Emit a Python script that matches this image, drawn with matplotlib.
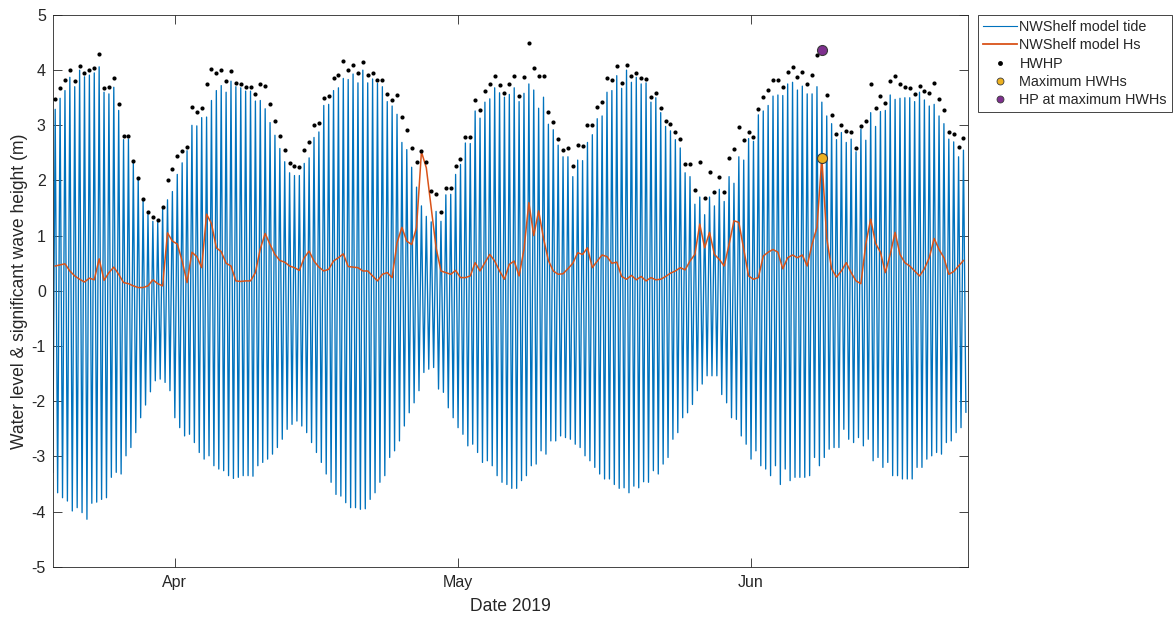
import numpy as np
import pandas as pd
import matplotlib
matplotlib.use('Agg')
import matplotlib.pyplot as plt
from matplotlib.lines import Line2D

# Fonts close to the MATLAB look
plt.rcParams['font.family'] = ['Liberation Sans', 'DejaVu Sans']
plt.rcParams['axes.unicode_minus'] = False

# ---- data ----------------------------------------------------------------
# tide low waters (m), one per tide, starting just before the first high water
low_water = [
    -3.29, -3.66, -3.75, -3.81, -3.99, -3.93, -4.02, -4.14, -3.85, -3.83,
    -3.78, -3.75, -3.38, -3.29, -3.32, -2.99, -2.84, -2.57, -2.30, -2.07,
    -1.83, -1.63, -1.60, -1.66, -1.81, -2.30, -2.48, -2.63, -2.60, -2.75,
    -2.93, -3.05, -2.99, -3.17, -3.23, -3.26, -3.35, -3.40, -3.38, -3.35,
    -3.35, -3.36, -3.17, -3.11, -3.05, -2.96, -2.84, -2.69, -2.51, -2.42,
    -2.36, -2.45, -2.57, -2.75, -2.93, -3.11, -3.32, -3.47, -3.69, -3.72,
    -3.84, -3.93, -3.93, -3.96, -3.95, -3.78, -3.66, -3.47, -3.35, -3.02,
    -2.90, -2.72, -2.45, -2.21, -2.03, -1.81, -1.48, -1.42, -1.39, -1.78,
    -1.84, -2.12, -2.30, -2.48, -2.60, -2.81, -2.78, -2.93, -3.11, -3.08,
    -3.17, -3.35, -3.47, -3.51,
    -3.58, -3.58, -3.44, -3.35, -3.17, -3.14, -2.90, -2.96, -2.72, -2.72,
    -2.63, -2.66, -2.69, -2.78, -2.84, -2.99, -3.08, -3.20, -3.32, -3.41,
    -3.41, -3.51, -3.58, -3.57, -3.66, -3.54, -3.57, -3.46, -3.47, -3.26,
    -3.32, -3.14, -3.02, -2.69, -2.57, -2.30, -2.21, -2.06, -1.81, -1.69,
    -1.54, -1.54, -1.54, -1.88, -2.03, -2.30, -2.33, -2.63, -2.78, -3.05,
    -2.90, -3.17, -3.23, -3.35, -3.17, -3.51, -3.23, -3.44, -3.38, -3.38,
    -3.38, -3.35, -3.02, -3.17, -3.02, -2.87, -2.84, -2.84, -2.51, -2.69,
    -2.75, -2.66, -2.81, -2.69, -3.08, -3.02, -3.20, -3.11, -3.35, -3.35,
    -3.41, -3.41, -3.41, -3.20, -3.20, -3.05, -2.99, -2.93, -2.96, -2.75,
    -2.72, -2.57, -2.48, -2.20,
]

# tide high waters (m)
high_water = [
    3.29, 3.49, 3.63, 3.87, 3.70, 4.00, 3.88, 3.91, 3.95, 4.06,
    3.60, 3.57, 3.69, 3.27, 2.74, 2.75, 2.31, 2.03, 1.64, 1.38,
    1.26, 1.24, 1.48, 1.65, 1.80, 2.11, 2.32, 2.54, 3.00, 2.99,
    3.14, 3.15, 3.45, 3.63, 3.72, 3.60, 3.80, 3.70, 3.68, 3.62,
    3.62, 3.44, 3.45, 3.30, 3.05, 2.82, 2.58, 2.34,
    2.14, 2.09, 2.09, 2.31, 2.41, 2.78, 2.88, 3.36, 3.38, 3.63,
    3.68, 3.85, 3.83, 3.93, 3.77, 4.00, 3.77, 3.84, 3.76, 3.70,
    3.43, 3.35, 3.20, 2.69, 2.56, 2.24, 1.88, 1.54, 1.35, 1.25,
    1.44, 1.26, 1.74, 1.75, 2.11, 2.29, 2.68, 2.67, 3.26, 3.13,
    3.42, 3.48, 3.68, 3.59, 3.51, 3.56, 3.68,
    3.43, 3.58, 3.75, 3.64, 3.31, 3.51, 3.02, 2.92, 2.64, 2.43,
    2.43, 2.07, 2.37, 2.36, 2.69, 2.83, 3.12, 3.17, 3.60, 3.63,
    3.90, 3.67, 4.00, 3.78, 3.87, 3.75, 3.77, 3.42, 3.50, 3.23,
    2.98, 2.90, 2.74, 2.59, 2.14, 2.07, 1.57, 1.70, 1.38, 1.70,
    1.54, 1.84, 1.62, 2.07, 1.95, 2.43, 2.37,
    2.76, 2.71, 3.19, 3.26, 3.36, 3.53, 3.55, 3.54, 3.75, 3.78,
    3.64, 3.71, 3.57, 3.57, 3.70, 3.42, 3.17, 3.03, 2.74, 2.87,
    2.69, 2.75, 2.52, 2.93, 2.73, 3.23, 2.98, 3.25, 3.27, 3.55,
    3.47, 3.49, 3.50, 3.50, 3.43, 3.60, 3.46, 3.35, 3.38, 3.17,
    3.03, 2.75, 2.70, 2.43, 2.55,
]

# high water + wave contribution (black dots)
hwhp = [
    3.47, 3.68, 3.83, 4.01, 3.81, 4.08, 3.94, 4.00, 4.03, 4.30,
    3.68, 3.70, 3.86, 3.39, 2.80, 2.80, 2.35, 2.05, 1.66, 1.42,
    1.34, 1.29, 1.52, 2.00, 2.21, 2.45, 2.54, 2.60, 3.34, 3.24,
    3.31, 3.74, 4.02, 3.94, 4.00, 3.80, 3.98, 3.77, 3.75, 3.69,
    3.69, 3.57, 3.75, 3.72, 3.39, 3.08, 2.80, 2.55,
    2.32, 2.26, 2.24, 2.55, 2.70, 3.00, 3.05, 3.50, 3.54, 3.85,
    3.92, 4.16, 4.01, 4.10, 3.94, 4.14, 3.91, 3.95, 3.83, 3.82,
    3.56, 3.45, 3.55, 3.15, 2.92, 2.58, 2.34, 2.53, 2.33, 1.81,
    1.75, 1.43, 1.87, 1.87, 2.26, 2.39, 2.78, 2.78, 3.46, 3.27,
    3.62, 3.74, 3.90, 3.73, 3.59, 3.75, 3.90,
    3.54, 3.88, 4.50, 4.04, 3.89, 3.89, 3.24, 3.06, 2.76, 2.55,
    2.59, 2.27, 2.65, 2.62, 3.00, 3.00, 3.34, 3.43, 3.85, 3.83,
    4.07, 3.77, 4.10, 3.89, 3.95, 3.85, 3.84, 3.52, 3.58, 3.31,
    3.08, 3.03, 2.88, 2.76, 2.29, 2.29, 1.83, 2.33, 1.69, 2.15,
    1.80, 2.07, 1.80, 2.41, 2.57, 2.97, 2.73,
    2.87, 2.79, 3.29, 3.51, 3.64, 3.83, 3.83, 3.70, 3.96, 4.06,
    3.88, 3.97, 3.75, 3.91, 4.27, 4.35, 3.55, 3.19, 2.84, 3.01,
    2.89, 2.88, 2.59, 2.98, 3.07, 3.75, 3.32, 3.53, 3.40, 3.81,
    3.89, 3.75, 3.70, 3.68, 3.57, 3.71, 3.62, 3.59, 3.76, 3.47,
    3.27, 2.87, 2.84, 2.61, 2.77,
]

# significant wave height at each high water (m)
hs = [
    0.45, 0.47, 0.49, 0.36, 0.27, 0.21, 0.16, 0.23, 0.20, 0.58,
    0.19, 0.33, 0.43, 0.30, 0.15, 0.13, 0.09, 0.06, 0.06, 0.09,
    0.20, 0.13, 0.09, 1.05, 0.90, 0.85, 0.54, 0.15, 0.70, 0.62,
    0.42, 1.39, 1.22, 0.78, 0.71, 0.50, 0.45, 0.18, 0.17, 0.18,
    0.18, 0.33, 0.76, 1.04, 0.84, 0.66, 0.55, 0.52,
    0.45, 0.42, 0.37, 0.60, 0.72, 0.54, 0.43, 0.36, 0.39, 0.54,
    0.60, 0.67, 0.44, 0.43, 0.42, 0.36, 0.36, 0.27, 0.18, 0.30,
    0.33, 0.24, 0.87, 1.15, 0.90, 0.84, 1.15, 2.52, 2.23, 1.51,
    0.78, 0.36, 0.33, 0.30, 0.37, 0.24, 0.24, 0.27, 0.51, 0.36,
    0.51, 0.66, 0.54, 0.36, 0.21, 0.48, 0.54,
    0.27, 0.75, 1.60, 1.00, 1.45, 0.95, 0.55, 0.36, 0.30, 0.31,
    0.40, 0.50, 0.69, 0.66, 0.78, 0.42, 0.54, 0.65, 0.62, 0.50,
    0.52, 0.26, 0.21, 0.28, 0.20, 0.26, 0.18, 0.24, 0.20, 0.21,
    0.26, 0.32, 0.36, 0.42, 0.38, 0.54, 0.66, 1.21, 0.78, 1.06,
    0.66, 0.57, 0.45, 0.84, 1.27, 1.24, 0.75,
    0.27, 0.21, 0.24, 0.63, 0.70, 0.75, 0.70, 0.40, 0.60, 0.65,
    0.60, 0.65, 0.45, 0.85, 1.15, 2.41, 0.95, 0.40, 0.25, 0.36,
    0.51, 0.33, 0.18, 0.13, 0.85, 1.30, 0.86, 0.70, 0.33, 0.66,
    1.06, 0.66, 0.51, 0.45, 0.36, 0.27, 0.40, 0.60, 0.95, 0.75,
    0.60, 0.30, 0.35, 0.45, 0.55,
]

# maximum high-water Hs and the HP value at the same tide
max_index = 157
max_hwhs = 2.41
hp_at_max = 4.36

month_ticks = ['2019-04-01', '2019-05-01', '2019-06-01']
month_labels = ['Apr', 'May', 'Jun']

# ---- times: semidiurnal tide, 12 h 25 min between high waters ------------
low_times = pd.date_range('2019-03-19 01:26', periods=len(low_water), freq='745min')
high_times = low_times[:-1] + pd.Timedelta(minutes=372)

# interleave low and high waters into one tide curve
tide_t = np.empty(len(low_water) + len(high_water), dtype='datetime64[ns]')
tide_v = np.empty(len(tide_t))
tide_t[0::2] = low_times.values
tide_t[1::2] = high_times.values
tide_v[0::2] = low_water
tide_v[1::2] = high_water

# ---- figure ---------------------------------------------------------------
fig = plt.figure(figsize=(11.75, 6.19), dpi=100)
ax = fig.add_axes([0.0449, 0.0845, 0.7787, 0.8913])

txt = '#262626'

ax.plot(tide_t, tide_v, color='#0072BD', lw=0.95, zorder=2)
ax.plot(high_times, hs, color='#D95319', lw=1.1, zorder=3)
ax.plot(high_times, hwhp, 'o', color='k', ms=3.0, mec='none', zorder=4)
ax.plot(high_times[max_index], max_hwhs, 'o', mfc='#EDB120', mec='#3a3a3a',
        ms=7.2, mew=0.8, zorder=5)
ax.plot(high_times[max_index], hp_at_max, 'o', mfc='#7E2F8E', mec='#3a3a3a',
        ms=7.2, mew=0.8, zorder=5)

ax.set_xlim(low_times[0], pd.Timestamp('2019-06-24 00:00'))
ax.set_ylim(-5, 5)
ax.set_yticks(range(-5, 6))
ax.set_xticks(pd.to_datetime(month_ticks))
ax.set_xticklabels(month_labels)

ax.tick_params(direction='in', length=6.5, width=0.6, top=True, right=True,
               color=txt, labelcolor=txt, labelsize=11.5)
ax.tick_params(axis='x', pad=6)
ax.tick_params(axis='y', pad=5)
for sp in ax.spines.values():
    sp.set_color(txt)
    sp.set_linewidth(0.6)

ax.set_xlabel('Date 2019', fontsize=12.65, color=txt, va='center')
ax.set_ylabel('Water level & significant wave height (m)', fontsize=12.65,
              color=txt, va='center', ha='center')
ax.xaxis.set_label_coords(0.5, -0.0725)
ax.yaxis.set_label_coords(-0.0363, 0.5)

# legend with small marker samples, outside to the right
handles = [
    Line2D([], [], color='#0072BD', lw=0.8),
    Line2D([], [], color='#D95319', lw=1.3),
    Line2D([], [], ls='none', marker='o', color='k', ms=3.5, mec='none'),
    Line2D([], [], ls='none', marker='o', mfc='#EDB120', mec='#3a3a3a', ms=5, mew=0.6),
    Line2D([], [], ls='none', marker='o', mfc='#7E2F8E', mec='#3a3a3a', ms=5, mew=0.6),
]
labels = ['NWShelf model tide', 'NWShelf model Hs', 'HWHP',
          'Maximum HWHs', 'HP at maximum HWHs']
leg = ax.legend(handles, labels, loc='upper left', bbox_to_anchor=(0.8321, 0.9758),
                bbox_transform=fig.transFigure, fontsize=10.35, frameon=True,
                fancybox=False, edgecolor=txt, framealpha=1, borderaxespad=0,
                handlelength=2.4, handletextpad=0.15, labelspacing=0.3,
                borderpad=0.35)
leg.get_frame().set_linewidth(0.6)
for t in leg.get_texts():
    t.set_color(txt)

fig.savefig('out.png', dpi=100)
